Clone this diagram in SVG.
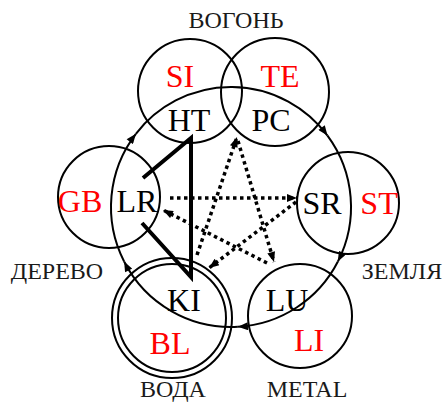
<svg xmlns="http://www.w3.org/2000/svg" width="446" height="406" viewBox="0 0 446 406">
<style>
.c{fill:none;stroke:#000;stroke-width:2}
text{font-family:"Liberation Serif","DejaVu Serif","Times New Roman",serif;text-anchor:middle}
.n{font-size:32px;fill:#000}
.r{font-size:32px;fill:#ff0000}
.g{font-size:24px;fill:#1a1a1a}
.big{fill:none;stroke:#000;stroke-width:2;marker-end:url(#ah)}
.dot{fill:none;stroke:#000;stroke-width:3.5;stroke-dasharray:3.5 3.5;marker-end:url(#ah)}
.bold{fill:none;stroke:#000;stroke-width:4;stroke-linejoin:miter}
</style>
<defs>
<marker id="ah" viewBox="0 0 10 8" refX="10" refY="4" markerWidth="11" markerHeight="8" markerUnits="userSpaceOnUse" orient="auto"><path d="M0,0 L10,4 L0,8 z" fill="#000"/></marker>
</defs>
<rect width="446" height="406" fill="#fff"/>
<g id="node-SI"><circle class="c" cx="190" cy="91" r="52"/><text class="r" x="180" y="87" font-family="Liberation Serif, serif">SI</text><text class="n" x="189" y="131" font-family="Liberation Serif, serif">HT</text></g>
<g id="node-TE"><circle class="c" cx="275" cy="92" r="54"/><text class="r" x="280" y="87" font-family="Liberation Serif, serif">TE</text><text class="n" x="271" y="131" font-family="Liberation Serif, serif">PC</text></g>
<g id="node-GB"><circle class="c" cx="109" cy="197" r="51"/><text class="r" x="80" y="212" font-family="Liberation Serif, serif">GB</text><text class="n" x="137" y="212" font-family="Liberation Serif, serif">LR</text></g>
<g id="node-ST"><circle class="c" cx="348" cy="203" r="51"/><text class="n" x="322" y="214" font-family="Liberation Serif, serif">SR</text><text class="r" x="379" y="214" font-family="Liberation Serif, serif">ST</text></g>
<g id="node-BL"><circle class="c" cx="172" cy="318" r="60"/><circle class="c" cx="172" cy="318" r="54"/><text class="n" x="184" y="311" font-family="Liberation Serif, serif">KI</text><text class="r" x="170" y="354" font-family="Liberation Serif, serif">BL</text></g>
<g id="node-LI"><circle class="c" cx="300" cy="316" r="52"/><text class="n" x="287" y="311" font-family="Liberation Serif, serif">LU</text><text class="r" x="309" y="351" font-family="Liberation Serif, serif">LI</text></g>
<g id="labels">
<text class="g" x="236" y="28" font-family="Liberation Serif, serif">ВОГОНЬ</text>
<text class="g" x="57" y="279" font-family="Liberation Serif, serif">ДЕРЕВО</text>
<text class="g" x="402" y="279" font-family="Liberation Serif, serif">ЗЕМЛЯ</text>
<text class="g" x="173" y="397" font-family="Liberation Serif, serif">ВОДА</text>
<text class="g" x="307" y="397" font-family="Liberation Serif, serif">METAL</text>
</g>
<g id="connectors">
<path class="big" d="M124.1,261.5 A120,120 0 0 1 135.9,133.8"/>
<path class="big" d="M135.9,133.8 A120,120 0 0 1 327.5,135.6"/>
<path class="big" d="M327.5,135.6 A120,120 0 0 1 337.9,261.5"/>
<path class="big" d="M337.9,261.5 A120,120 0 0 1 237.9,326.8"/>
<path class="big" d="M237.9,326.8 A120,120 0 0 1 124.1,261.5"/>
<path class="dot" d="M170,198 L297,198"/>
<path class="dot" d="M296,202 L209,268"/>
<path class="dot" d="M197,255 L237,137"/>
<path class="dot" d="M238,141 L274,262"/>
<path class="dot" d="M267,263 L163,210"/>
<path class="bold" d="M143,178 L191,138 L191,277 L142,223"/>
</g>
</svg>
